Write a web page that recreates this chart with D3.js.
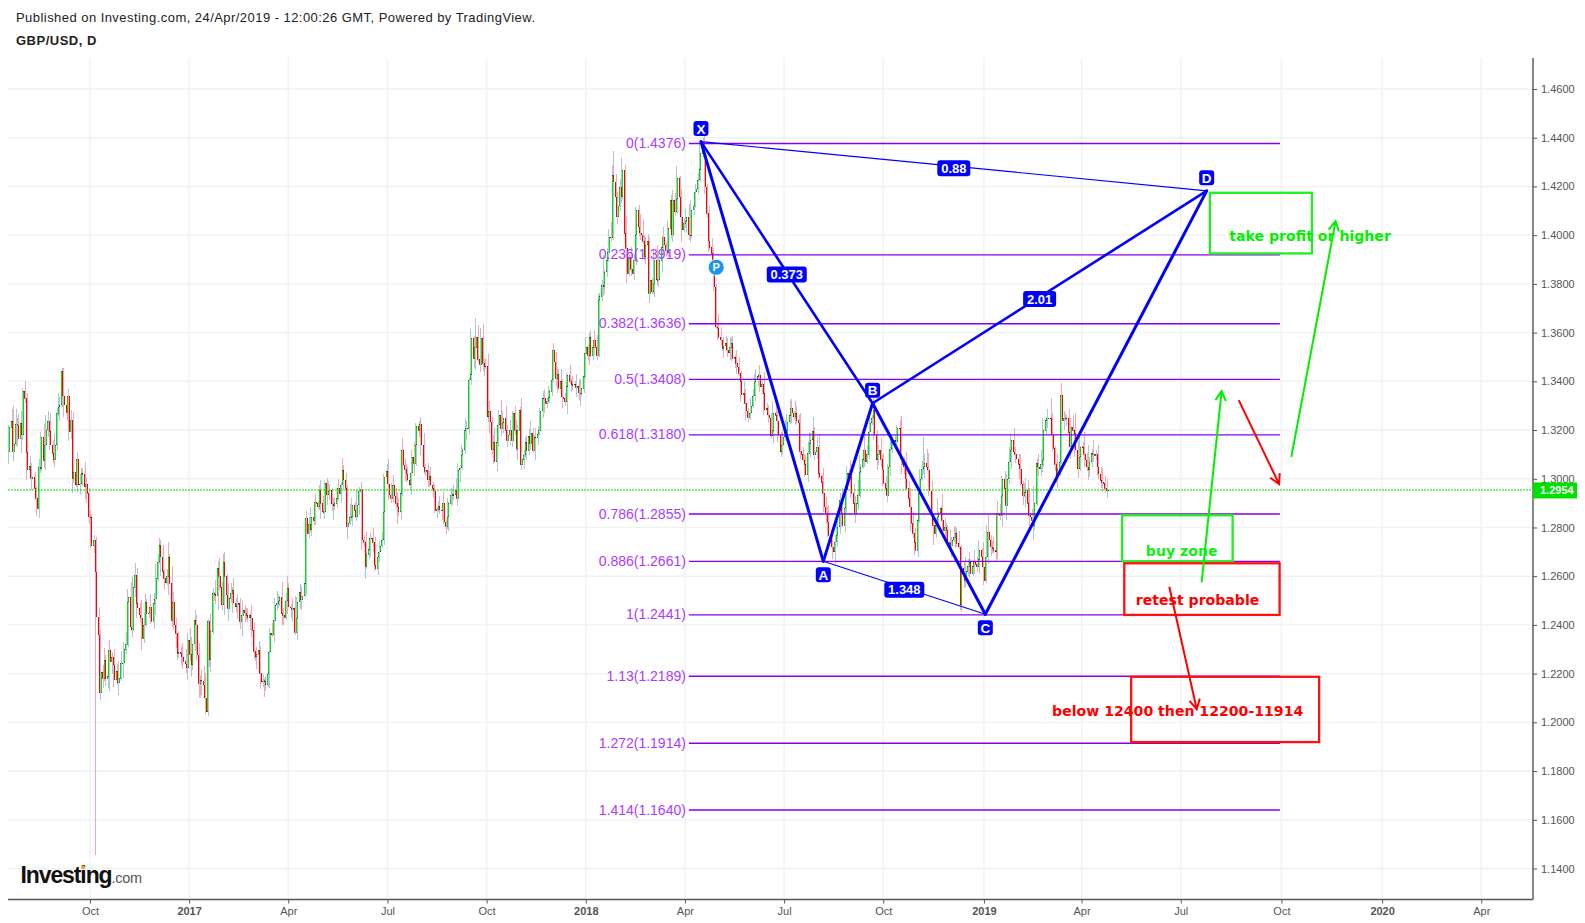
<!DOCTYPE html>
<html><head><meta charset="utf-8">
<script src="https://cdnjs.cloudflare.com/ajax/libs/d3/7.8.5/d3.min.js"></script>
<style>
html,body{margin:0;padding:0;background:#fff;overflow:hidden}
svg{display:block}
text{font-family:"Liberation Sans",Arial,sans-serif}
.axis path,.axis line{stroke:#555}
.axis text{fill:#555;font-size:11px;font-family:"Liberation Sans",Arial,sans-serif}
</style></head><body>
<svg id="c" width="1585" height="923"></svg>
<script>
// Daily GBP/USD closes in pips (13212 = 1.3212); one entry per weekday starting 2016-07-20.
const closes=[
13212,13238,13112,13143,13225,13221,13166,13228,13180,13361,
13331,13109,13036,13053,13002,13009,12961,12920,12879,13050,
13043,13173,13075,13139,13201,13238,13194,13139,13105,13078,
13139,13269,13296,13303,13443,13340,13303,13272,13340,13194,
13242,13002,13027,12975,13080,12975,12979,13023,13019,12968,
12979,12941,12845,12842,12724,12749,12619,12434,12359,12122,
12206,12180,12256,12181,12190,12297,12250,12270,12236,12174,
12210,12163,12180,12243,12245,12301,12320,12496,12516,12393,
12380,12555,12604,12489,12470,12441,12430,12345,12400,12496,
12448,12450,12475,12414,12489,12507,12591,12660,12728,12680,
12620,12591,12574,12600,12680,12571,12420,12496,12400,12366,
12284,12290,12284,12270,12250,12241,12225,12338,12280,12236,
12322,12420,12400,12277,12161,12175,12170,12154,12100,12044,
12414,12256,12373,12533,12525,12520,12633,12600,12555,12482,
12660,12600,12523,12468,12509,12530,12544,12490,12475,12485,
12489,12414,12440,12462,12450,12440,12430,12440,12430,12379,
12291,12270,12280,12295,12202,12167,12170,12170,12154,12200,
12290,12366,12359,12420,12482,12489,12500,12516,12448,12440,
12431,12500,12550,12475,12470,12465,12468,12370,12430,12496,
12537,12503,12520,12571,12838,12776,12815,12793,12845,12830,
12906,12900,12886,12954,12900,12865,12865,12982,12934,12950,
12952,12897,12890,12900,12920,12960,12940,12975,13036,12995,
12961,12804,12820,12845,12845,12893,12870,12845,12893,12948,
12957,12749,12740,12640,12690,12710,12756,12756,12740,12646,
12633,12680,12700,12725,12750,12865,13009,13030,12980,12934,
12920,12975,12930,12900,12886,12865,12940,13118,13057,13040,
13020,12995,12975,13025,13090,13063,13139,13217,13200,13225,
13139,13050,13030,13035,12995,13010,12975,12961,12950,12870,
12875,12890,12872,12870,12900,12824,12804,12845,12900,12934,
12935,12934,12955,12920,13036,13045,13098,13120,13200,13207,
13208,13406,13430,13577,13495,13540,13580,13490,13470,13577,
13474,13460,13463,13255,13280,13235,13120,13150,13070,13150,
13221,13262,13207,13230,13248,13200,13159,13180,13200,13159,
13269,13200,13125,13200,13283,13057,13080,13098,13150,13118,
13176,13146,13187,13116,13170,13170,13185,13200,13280,13330,
13330,13310,13320,13335,13360,13406,13529,13480,13412,13430,
13371,13400,13337,13330,13317,13380,13426,13400,13385,13385,
13390,13375,13380,13354,13350,13371,13420,13515,13540,13508,
13580,13508,13540,13570,13540,13508,13734,13750,13796,13790,
13850,13898,13930,13994,13990,14247,14220,14158,14076,14120,
14199,14160,14268,14008,13946,13844,13912,13860,13844,13898,
14001,14104,14035,14010,14001,13974,13912,13960,13974,13762,
13816,13768,13800,13898,13816,13816,13898,13950,13994,13960,
13939,13930,14028,14145,14001,14145,14097,14150,14234,14158,
14076,14022,14049,14060,14076,14001,14000,14104,14120,14179,
14190,14227,14270,14336,14377,14336,14199,14090,13978,13950,
13926,13880,13789,13625,13620,13581,13570,13536,13545,13556,
13530,13518,13540,13556,13495,13500,13474,13460,13433,13400,
13344,13350,13310,13280,13252,13270,13299,13340,13399,13410,
13420,13425,13378,13390,13351,13283,13290,13262,13250,13176,
13200,13269,13260,13239,13180,13111,13140,13173,13190,13200,
13235,13260,13289,13270,13255,13270,13241,13230,13112,13100,
13077,13060,13016,13105,13146,13160,13194,13098,13110,13132,
13023,13010,12985,12940,12885,12860,12823,12769,12748,12720,
12700,12741,12770,12803,12912,12860,12810,12880,12954,13022,
13010,13008,12940,12900,12858,12900,12933,13029,13049,13080,
13118,13070,13100,13193,13230,13250,13282,13180,13077,13100,
13118,13080,13036,12981,12960,12933,13050,13124,13150,13152,
13160,13152,13210,13207,13083,13060,13049,13000,12960,12920,
12885,12817,12776,12740,12707,12830,12940,13000,13042,13050,
13063,13050,13036,12950,12851,12810,12776,12810,12844,12860,
12878,12830,12789,12800,12789,12741,12735,12728,12750,12760,
12776,12735,12720,12482,12632,12600,12584,12620,12640,12659,
12612,12640,12659,12650,12639,12670,12707,12680,12639,12584,
12680,12782,12750,12721,12715,12707,12700,12858,12855,12851,
12930,13001,12960,12892,13000,13070,13120,13159,13111,13100,
13083,13060,13042,12980,12933,12945,12954,12900,12851,12844,
12830,12810,12899,13063,13050,13042,13060,13077,13200,13240,
13248,13250,13248,13180,13125,13060,13001,13040,13070,13343,
13241,13250,13248,13248,13190,13131,13213,13200,13186,13120,
13042,13090,13131,13131,13100,13077,13050,13036,13070,13104,
13100,13097,13100,13049,13020,12994,12985,12981,12960,12950,
12954];
// Upper and lower shadow of each bar, in units of 10 pips.
const wickUp=[
1,5,6,1,6,4,3,5,2,1, 4,2,3,4,1,5,2,1,1,3,
4,2,5,3,6,4,3,1,2,1, 5,2,4,5,1,1,3,2,3,1,
4,3,5,2,3,1,4,2,2,5, 3,1,2,1,3,2,1,1,4,2,
6,3,2,5,2,4,3,2,3,1, 3,4,2,5,1,3,5,2,3,6,
1,4,5,3,4,2,6,3,5,1, 3,1,5,3,4,2,6,3,2,3,
5,1,2,3,1,6,7,4,2,3, 1,5,2,4,1,5,3,3,5,2,
3,4,2,1,5,4,2,6,5,2, 1,3,4,2,5,1,3,4,6,2,
4,3,1,5,2,4,5,1,2,4, 3,2,1,4,2,2,3,1,4,1,
3,2,1,4,2,1,3,2,1,5, 3,2,4,1,3,5,2,1,6,2,
1,3,2,5,1,4,2,5,1,2, 3,2,4,1,3,1,3,2,4,2,
2,3,1,4,2,3,5,1,2,3, 4,1,3,2,1,4,3,1,2,5,
3,1,4,5,2,3,1,4,6,2, 1,3,2,4,1,3,2,1,4,2,
3,1,4,2,3,6,1,3,5,2, 5,1,4,3,2,6,4,1,5,3,
1,4,2,5,3,6,4,1,2,3, 3,5,1,2,3,4,2,1,1,3,
1,4,2,3,2,5,1,6,2,3, 4,2,5,6,3,1,3,2,5,2,
3,1,4,4,1,12,3,5,1,4, 6,2,3,5,1,4,2,6,3,1,
3,2,6,1,3,5,2,1,4,2, 1,3,2,4,1,5,3,2,3,2,
3,1,5,2,4,1,3,2,1,3, 2,4,1,3,2,6,1,3,4,2,
3,5,1,4,2,3,1,4,2,3, 1,2,5,3,1,4,2,3,4,1,
3,2,1,4,2,5,3,1,2,6, 7,5,9,3,6,10,4,3,2,5,
3,6,5,2,7,3,1,4,6,2, 3,1,2,5,3,6,2,4,3,2,
5,1,3,4,6,2,3,1,4,2, 1,5,3,2,4,1,3,2,5,1,
3,4,2,1,3,5,2,4,3,1, 2,3,1,4,2,3,5,1,3,2,
4,2,3,1,5,2,4,1,2,3, 2,1,4,3,2,1,3,2,4,1,
3,5,2,3,1,6,2,3,5,2, 1,3,4,2,5,3,2,1,4,2,
2,5,3,1,4,1,2,3,5,2, 3,6,2,4,1,3,5,2,4,1,
3,2,4,5,4,3,6,2,7,4, 5,3,1,6,2,4,3,6,2,5,
1,3,6,2,3,5,4,2,6,3, 2,5,7,4,3,2,6,3,5,1,
3,7,4,2,5,1,3,6,2,4, 1,5,2,6,3,5,1,4,2,3,
2,4,1,3,5,2,3,6,1,3, 4,7,5,2,3,6,1,4,3,5,
11,6,3,7,4,1,5,3,2,6, 1,6,2,4,1,3,5,2,1,4,
2,3,5,1,4,3,2,6,3,1, 4,2,5,1,3,2,4,1,6,5,
13,7,6,2,4,3,1,5,2,4, 6,1,3,5,2,6,3,2,5,1,
3,2,4,5,1,6,3,4,6,1, 3,5,7,2,4,3,6,2,5,1,
4,3,8,2,5,1,4,3,6,2, 5,3,1,2,4,6,3,5,7,2,
3,1,4,2,6,5,3,4,7,2, 5,6,2,4,1,3,5,2,3,4,
1];
const wickDown=[
5,2,4,3,1,4,3,6,2,1, 2,3,4,3,1,5,4,2,3,4,
1,2,3,4,1,3,5,2,4,3, 1,2,3,4,1,2,5,3,1,4,
3,2,6,1,3,2,4,1,3,5, 2,4,3,2,1,3,2,98,5,3,
2,4,3,1,4,6,2,5,1,3, 2,5,3,1,6,3,2,1,5,2,
3,1,4,2,4,3,1,5,2,1, 3,2,4,1,3,5,2,1,6,3,
2,4,3,1,2,5,3,4,1,6, 2,3,5,1,3,4,2,5,3,2,
5,3,4,2,6,5,7,4,3,1, 2,5,3,1,4,2,6,3,1,2,
4,6,3,1,5,2,3,4,2,5, 1,3,6,2,4,3,1,5,2,3,
3,5,2,4,1,3,2,4,5,1, 6,2,1,3,4,2,1,3,5,2,
3,1,2,3,4,2,5,1,3,2, 3,4,2,1,5,1,2,3,1,2,
2,4,1,5,3,1,3,2,4,2, 1,3,2,6,2,1,3,4,2,1,
2,3,5,1,4,2,3,1,2,4, 3,4,2,1,5,2,3,1,4,2,
1,3,2,4,1,2,3,1,4,2, 2,1,3,2,4,5,3,1,2,5,
3,1,2,4,2,5,1,2,3,1, 4,3,2,1,3,2,1,4,3,1,
3,2,1,4,2,1,3,2,5,1, 2,4,1,3,2,5,1,3,2,4,
1,3,2,1,4,5,2,1,3,2, 3,1,4,2,1,5,2,3,1,4,
2,1,3,2,1,4,3,2,4,1, 3,2,5,1,3,2,1,4,2,3,
2,1,3,1,4,2,3,1,2,3, 1,4,2,1,3,2,1,5,3,1,
2,3,1,4,2,5,3,1,2,3, 1,2,4,3,1,5,2,1,3,2,
1,4,2,3,1,2,1,4,2,3, 4,2,1,3,2,1,5,2,3,1,
2,1,3,1,3,4,1,2,1,3, 2,1,4,3,2,1,3,2,1,4,
3,1,2,4,2,3,1,5,2,1, 3,2,1,4,1,3,2,1,2,3,
3,5,1,4,3,2,1,3,2,1, 4,2,1,3,2,1,3,2,4,2,
1,3,2,1,3,1,2,4,1,2, 3,1,3,2,1,4,2,3,1,2,
3,2,1,4,2,1,3,1,2,4, 3,1,2,3,1,2,1,3,2,1,
3,1,2,1,3,2,1,4,2,1, 3,1,2,4,1,3,2,1,3,2,
1,2,1,3,2,1,4,2,1,3, 2,1,3,1,2,4,3,1,2,3,
3,5,2,1,3,2,1,3,2,4, 1,3,2,1,4,2,3,1,2,1,
3,2,1,2,3,1,3,2,4,2, 1,3,2,1,2,1,3,4,2,3,
2,1,3,1,2,4,3,2,1,2, 1,3,2,1,2,3,1,2,1,4,
3,2,1,2,4,3,5,2,1,4, 3,1,2,4,3,1,2,5,3,1,
4,2,1,3,2,5,3,1,2,3, 2,1,3,4,2,3,1,4,3,2,
1,3,2,4,2,1,4,3,18,2, 5,2,3,1,6,2,3,4,1,3,
2,6,3,1,4,5,2,3,1,4, 3,2,6,1,4,2,3,1,5,2,
3,1,2,5,1,3,4,2,3,1, 2,4,3,1,2,3,5,1,2,3,
4,1,3,2,5,1,2,3,4,2, 1,3,2,5,1,3,4,1,2,3,
2];
// Time axis: weekday index of each labelled tick.
const timeTickIndex=[53,118,183,248,313,378,443,508,573,639,703,768,834,900,965];
const timeTickLabels=["Oct","2017","Apr","Jul","Oct","2018","Apr","Jul","Oct","2019","Apr","Jul","Oct","2020","Apr"];
const priceTicks=[14600,14400,14200,14000,13800,13600,13400,13200,13000,12800,12600,12400,12200,12000,11800,11600,11400];
const lastPrice=12954;
// Fibonacci retracement.
const fibRatios=["0","0.236","0.382","0.5","0.618","0.786","0.886","1","1.13","1.272","1.414"];
const fibPrices=[14376,13919,13636,13408,13180,12855,12661,12441,12189,11914,11640];
const fibSpan=[445.6,833];
// XABCD pattern: [bar index, price].
const patternNames=["X","A","B","C","D"];
const patternIndex=[453.5,533.7,566,639.9,785];
const patternPrice=[14384,12661,13310,12444,14182];
const patternLegs=[[0,1,3],[1,2,3],[2,3,3],[3,4,3],[0,2,2.6],[2,4,2.6],[0,4,1.2],[1,3,1.1]];
const patternRatios=[[0,2,"0.373"],[2,4,"2.01"],[0,4,"0.88"],[1,3,"1.348"]];
// User drawings, in [bar index, price].
const boxes=[
 {x:[787.1,854],p:[14174,13925],c:"#1ff01f"},
 {x:[729.6,802],p:[12850,12661],c:"#1ff01f"},
 {x:[731,832.8],p:[12653,12441],c:"#ff1010"},
 {x:[735.5,858.7],p:[12187,11919],c:"#ff1010"}];
const notes=[
 {t:"take profit or higher",x:852.8,p:13977,c:"#00f000"},
 {t:"buy zone",x:768.6,p:12683,c:"#10f010"},
 {t:"retest probable",x:779,p:12482,c:"#ff0000"},
 {t:"below 12400 then 12200-11914",x:766,p:12026,c:"#ff0000"}];
const arrows=[
 {x:[781.7,794.8],p:[12575,13360],c:"#00f000"},
 {x:[840.5,869.5],p:[13090,14058],c:"#00f000"},
 {x:[806,832.5],p:[13323,12978],c:"#ff0000"},
 {x:[760.5,778.5],p:[12557,12054],c:"#ff0000"}];
const pivotMark={x:463.5,p:13868};

const svg=d3.select("#c");
const x=d3.scaleLinear().domain([-0.72,998.9]).range([8,1533]);
const y=d3.scaleLinear().domain([14600,11400]).range([89,868.5]);
const plotTop=58,plotBottom=899.5,plotL=8,plotR=1533;

// gridlines
const grid=svg.append("g");
grid.selectAll(".h").data(priceTicks).join("line").attr("x1",plotL).attr("x2",plotR)
 .attr("y1",d=>y(d)).attr("y2",d=>y(d)).attr("stroke","#f1f1f1").attr("stroke-width",1.4);
grid.selectAll(".v").data(timeTickIndex).join("line").attr("y1",plotTop).attr("y2",plotBottom)
 .attr("x1",d=>x(d)).attr("x2",d=>x(d)).attr("stroke","#f1f1f1").attr("stroke-width",1.4);

// axes
const ya=svg.append("g").attr("class","axis").attr("transform",`translate(${plotR},0)`)
 .call(d3.axisRight(y).tickValues(priceTicks).tickSize(4).tickPadding(4).tickFormat(d=>(d/10000).toFixed(4)));
ya.select(".domain").attr("d",`M0,${plotTop}V${plotBottom}`).attr("stroke-width",1.4);
const xa=svg.append("g").attr("class","axis").attr("transform",`translate(0,${plotBottom})`)
 .call(d3.axisBottom(x).tickValues(timeTickIndex).tickSize(4).tickPadding(4).tickFormat((d,i)=>timeTickLabels[i]));
xa.select(".domain").attr("d",`M${plotL},0H${plotR}`).attr("stroke-width",1.4);
xa.selectAll("text").attr("font-weight",(d,i)=>/^20/.test(timeTickLabels[i])?"bold":"normal");

// bars
const bars=closes.map((c,i)=>{const o=i?closes[i-1]:13112;return {i,o,c,h:Math.max(o,c)+wickUp[i]*10,l:Math.min(o,c)-wickDown[i]*10};});
const barG=svg.append("g");
barG.selectAll(".w").data(bars).join("rect")
 .attr("x",d=>Math.round(x(d.i))+(d.i%3==0?-1:1)).attr("width",1).attr("y",d=>y(d.h)).attr("height",d=>y(d.l)-y(d.h))
 .attr("fill",d=>d.c>=d.o?"#a9c9d4":"#f7a6b4").attr("shape-rendering","crispEdges");
barG.selectAll(".b").data(bars).join("rect")
 .attr("x",d=>Math.round(x(d.i))).attr("width",1).attr("y",d=>y(Math.max(d.o,d.c))).attr("height",d=>Math.max(1,y(Math.min(d.o,d.c))-y(Math.max(d.o,d.c))))
 .attr("fill",d=>d.c>=d.o?"#00e600":"#ff0000").attr("shape-rendering","crispEdges");
barG.selectAll(".e1").data(bars).join("rect")
 .attr("x",d=>Math.round(x(d.i))).attr("width",1).attr("height",1).attr("y",d=>y(Math.max(d.o,d.c)))
 .attr("fill","#333").attr("opacity",.7).attr("shape-rendering","crispEdges");
barG.selectAll(".e2").data(bars).join("rect")
 .attr("x",d=>Math.round(x(d.i))).attr("width",1).attr("height",1).attr("y",d=>y(Math.min(d.o,d.c))-0.5)
 .attr("fill","#333").attr("opacity",.7).attr("shape-rendering","crispEdges");

// last price line and tag
svg.append("line").attr("x1",plotL).attr("x2",plotR).attr("y1",y(lastPrice)).attr("y2",y(lastPrice))
 .attr("stroke","#00e000").attr("stroke-width",1).attr("stroke-dasharray","2,1");
svg.append("rect").attr("x",plotR).attr("y",y(lastPrice)-7.5).attr("width",44).attr("height",16).attr("fill","#00e000");
svg.append("text").attr("x",plotR+7).attr("y",y(lastPrice)+4.5).attr("fill","#fff").attr("font-size",11).attr("font-weight","bold")
 .text((lastPrice/10000).toFixed(4));

// fib
const fg=svg.append("g");
fg.selectAll("line").data(fibPrices).join("line").attr("x1",x(fibSpan[0])).attr("x2",x(fibSpan[1]))
 .attr("y1",d=>y(d)).attr("y2",d=>y(d)).attr("stroke","#8a00e6").attr("stroke-width",1.4);
fg.selectAll("text").data(fibPrices).join("text").attr("x",x(fibSpan[0])-3).attr("y",d=>y(d)+4.5)
 .attr("text-anchor","end").attr("font-size",14).attr("fill","#a93cff")
 .text((d,i)=>`${fibRatios[i]}(${(d/10000).toFixed(4)})`);

// pattern
const P=i=>[x(patternIndex[i]),y(patternPrice[i])];
const pg=svg.append("g");
pg.selectAll("line").data(patternLegs).join("line")
 .attr("x1",d=>P(d[0])[0]).attr("y1",d=>P(d[0])[1]).attr("x2",d=>P(d[1])[0]).attr("y2",d=>P(d[1])[1])
 .attr("stroke","#0000ff").attr("stroke-width",d=>d[2]).attr("stroke-linecap","round");
const ratioG=pg.selectAll(".r").data(patternRatios).join("g")
 .attr("transform",d=>`translate(${(P(d[0])[0]+P(d[1])[0])/2},${(P(d[0])[1]+P(d[1])[1])/2+2})`);
ratioG.append("rect").attr("x",d=>-(d[2].length*7+5)/2).attr("y",-8).attr("width",d=>d[2].length*7+5).attr("height",16).attr("rx",3).attr("fill","#0000ff");
ratioG.append("text").attr("text-anchor","middle").attr("y",4.5).attr("fill","#fff").attr("font-size",13).attr("font-weight","bold").text(d=>d[2]);
const ptG=pg.selectAll(".p").data(patternNames).join("g")
 .attr("transform",(d,i)=>`translate(${P(i)[0]},${P(i)[1]+((d=="A"||d=="C")?13.5:-13)})`);
ptG.append("rect").attr("x",-7.5).attr("y",-7.5).attr("width",15).attr("height",15).attr("rx",3).attr("fill","#0000ff");
ptG.append("text").attr("text-anchor","middle").attr("y",5).attr("fill","#fff").attr("font-size",13.5).attr("font-weight","bold").text(d=>d);

// boxes
svg.append("g").selectAll("rect").data(boxes).join("rect")
 .attr("x",d=>x(d.x[0])).attr("width",d=>x(d.x[1])-x(d.x[0])).attr("y",d=>y(d.p[0])).attr("height",d=>y(d.p[1])-y(d.p[0]))
 .attr("fill","none").attr("stroke",d=>d.c).attr("stroke-width",2.3);
// notes
svg.append("g").selectAll("text").data(notes).join("text").attr("x",d=>x(d.x)).attr("y",d=>y(d.p)).attr("text-anchor","middle")
 .attr("fill",d=>d.c).attr("font-size",14.1).attr("font-weight","bold").style("font-family","'DejaVu Sans',sans-serif").text(d=>d.t);
// arrows
const ag=svg.append("g");
arrows.forEach(a=>{
 const x0=x(a.x[0]),y0=y(a.p[0]),x1=x(a.x[1]),y1=y(a.p[1]),th=Math.atan2(y1-y0,x1-x0),L=11,s=0.5;
 ag.append("path").attr("fill","none").attr("stroke",a.c).attr("stroke-width",2).attr("stroke-linejoin","miter")
  .attr("d",`M${x0},${y0}L${x1},${y1}M${x1-L*Math.cos(th-s)},${y1-L*Math.sin(th-s)}L${x1},${y1}L${x1-L*Math.cos(th+s)},${y1-L*Math.sin(th+s)}`);
});
// pivot marker
const pm=svg.append("g").attr("transform",`translate(${x(pivotMark.x)},${y(pivotMark.p)})`);
pm.append("circle").attr("r",8).attr("fill","#1a96f0").attr("stroke","#fff").attr("stroke-width",.8);
pm.append("text").attr("text-anchor","middle").attr("y",4).attr("fill","#fff").attr("font-size",11).attr("font-weight","bold").text("P");

// titles
svg.append("text").attr("x",16).attr("y",22).attr("font-size",13).attr("letter-spacing",.45).attr("fill","#222").text("Published on Investing.com, 24/Apr/2019 - 12:00:26 GMT, Powered by TradingView.");
svg.append("text").attr("x",16).attr("y",45).attr("font-size",13).attr("letter-spacing",.5).attr("font-weight","bold").attr("fill","#222").text("GBP/USD, D");
// logo
const logo=svg.append("text").attr("x",20.5).attr("y",883);
logo.append("tspan").attr("font-size",23).attr("font-weight","bold").attr("fill","#111").attr("letter-spacing",-1.1).text("Investing");
logo.append("tspan").attr("font-size",14.5).attr("letter-spacing",-.3).attr("fill","#555").text(".com");
svg.append("circle").attr("cx",83).attr("cy",867.3).attr("r",2).attr("fill","#f5a623");
</script></body></html>
